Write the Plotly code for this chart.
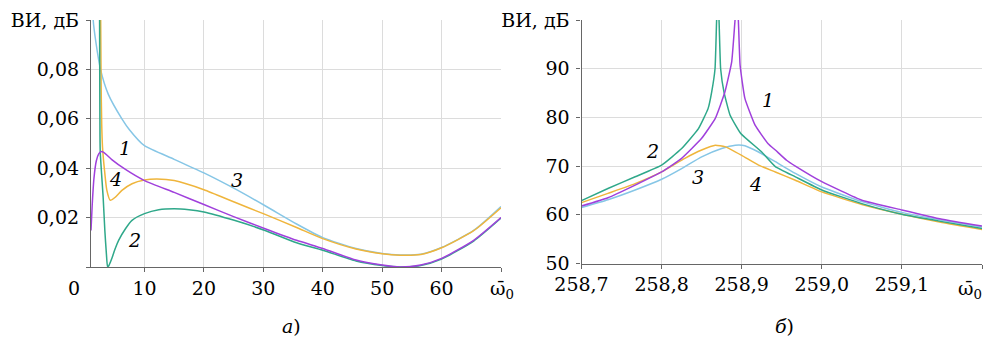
import plotly.graph_objects as go

# ---------------- Panel а) ----------------
a_x1 = [1.0, 1.2, 1.5, 1.9, 2.3, 2.7, 3.2, 4.5, 6.8, 10, 15, 20, 25, 30.3, 35.6, 40, 45.6, 50, 53, 56.5, 60, 65.4, 70]
a_y1 = [0.0148, 0.025, 0.036, 0.043, 0.0458, 0.0467, 0.0463, 0.0435, 0.0395, 0.035, 0.0302, 0.0253, 0.0204,
        0.0155, 0.0108, 0.0075, 0.0028, 0.0008, 0.0, 0.0008, 0.0035, 0.0108, 0.020]

a_x2 = [2.42, 2.47, 2.5, 2.55, 3.05, 3.33, 3.6, 3.8, 4.05, 4.5, 5.08, 5.65, 6.8, 7.9, 10, 12.4, 15, 17.5, 20,
        25.1, 30.3, 35.6, 40, 45.6, 50, 53, 56.5, 60, 65.4, 70]
a_y2 = [0.12, 0.08, 0.06, 0.047, 0.028, 0.0148, 0.005, 0.0, 0.0008, 0.0034, 0.0075, 0.0108, 0.0155, 0.0189,
        0.0216, 0.0232, 0.0236, 0.0232, 0.0223, 0.0189, 0.0148, 0.0098, 0.0068, 0.0024, 0.0006, 0.0, 0.0006,
        0.0032, 0.0105, 0.0198]

a_x3 = [1.3, 1.37, 1.8, 2.6, 3.9, 6.2, 7.5, 10, 15, 20, 25.1, 30.3, 35.6, 40, 45.6, 50, 53, 56.5, 60, 65.4, 70]
a_y3 = [0.11, 0.1, 0.0914, 0.080, 0.070, 0.060, 0.0555, 0.0491, 0.0436, 0.0381, 0.0318, 0.0248, 0.0174, 0.0119,
        0.0075, 0.0055, 0.0049, 0.0052, 0.0079, 0.0148, 0.0245]

a_x4 = [2.6, 2.7, 2.8, 2.94, 3.28, 3.67, 4.24, 5.1, 6.2, 7.9, 10, 12.1, 15, 20, 25.1, 30.3, 35.6, 40, 45.6, 50,
        53, 56.5, 60, 65.4, 70]
a_y4 = [0.11, 0.075, 0.058, 0.0485, 0.039, 0.031, 0.027, 0.0283, 0.031, 0.0337, 0.0352, 0.0356, 0.035, 0.0313,
        0.0263, 0.0213, 0.016, 0.0115, 0.0073, 0.0054, 0.0048, 0.0051, 0.0078, 0.0147, 0.024]

a_xticks = [10, 20, 30, 40, 50, 60, 70]
a_xtext = ["10", "20", "30", "40", "50", "60", " "]
a_yticks = [0, 0.02, 0.04, 0.06, 0.08, 0.1]
a_ytext = [" ", "0,02", "0,04", "0,06", "0,08", "ВИ, дБ"]

# ---------------- Panel б) ----------------
b_x1 = [258.7, 258.733, 258.767, 258.8, 258.825, 258.85, 258.867, 258.879, 258.8875, 258.8917, 258.894,
        258.8958, 258.898, 258.904, 258.9167, 258.933, 258.942, 258.956, 258.967, 259.0, 259.05, 259.1,
        259.15, 259.2]
b_y1 = [61.8, 63.5, 66.1, 68.8, 71.6, 75.7, 79.8, 85.2, 91.4, 100, 104, 100, 90.7, 83.9, 78.4, 74.6, 73.3,
        71.2, 70.0, 66.8, 63.0, 61.0, 59.1, 57.7]

b_x2 = [258.7, 258.733, 258.767, 258.8, 258.825, 258.846, 258.858, 258.8625, 258.8667, 258.8687, 258.8702,
        258.8717, 258.8737, 258.8779, 258.8854, 258.8988, 258.925, 258.942, 258.967, 259.0, 259.05, 259.1,
        259.15, 259.2]
b_y2 = [62.9, 65.4, 67.8, 70.2, 73.6, 77.7, 81.8, 85.2, 90.0, 100, 104, 100, 90.0, 85.2, 80.5, 76.7, 72.9,
        69.9, 67.8, 65.1, 62.3, 60.1, 58.6, 57.2]

b_x3 = [258.7, 258.733, 258.767, 258.8, 258.825, 258.85, 258.875, 258.892, 258.904, 258.921, 258.942,
        258.967, 259.0, 259.05, 259.1, 259.15, 259.2]
b_y3 = [61.5, 63.1, 65.1, 67.3, 69.5, 71.9, 73.6, 74.3, 74.2, 72.9, 70.9, 68.5, 65.7, 62.7, 60.5, 58.9, 57.5]

b_x4 = [258.7, 258.733, 258.767, 258.8, 258.829, 258.85, 258.867, 258.879, 258.9, 258.921, 258.942, 258.967,
        259.0, 259.05, 259.1, 259.15, 259.2]
b_y4 = [62.5, 64.4, 66.4, 68.8, 71.6, 73.3, 74.3, 74.0, 72.2, 70.2, 68.8, 67.1, 64.7, 62.1, 60.1, 58.4, 57.0]

b_xticks = [258.7, 258.8, 258.9, 259.0, 259.1, 259.2]
b_xtext = ["258,7", "258,8", "258,9", "259,0", "259,1", " "]
b_yticks = [50, 60, 70, 80, 90, 100]
b_ytext = ["50", "60", "70", "80", "90", "ВИ, дБ"]

# ---------------- Styling ----------------
C1 = "#a040dc"   # 1 purple
C2 = "#2fa88a"   # 2 teal
C3 = "#86c6e6"   # 3 light blue
C4 = "#efb53c"   # 4 yellow
FONT = "DejaVu Serif"
FS = 19
W, H = 984, 340

fig = go.Figure()
for xs, ys, c in [(a_x3, a_y3, C3), (a_x4, a_y4, C4), (a_x2, a_y2, C2), (a_x1, a_y1, C1)]:
    fig.add_trace(go.Scatter(x=xs, y=ys, mode="lines", line=dict(color=c, width=1.5, shape="spline", smoothing=0.6),
                             xaxis="x", yaxis="y", showlegend=False, hoverinfo="skip"))
for xs, ys, c in [(b_x3, b_y3, C3), (b_x4, b_y4, C4), (b_x2, b_y2, C2), (b_x1, b_y1, C1)]:
    fig.add_trace(go.Scatter(x=xs, y=ys, mode="lines", line=dict(color=c, width=1.5, shape="spline", smoothing=0.4),
                             xaxis="x2", yaxis="y2", showlegend=False, hoverinfo="skip"))

axis_common = dict(showgrid=True, gridcolor="#dcdcdc", gridwidth=1, showline=True, linecolor="#666666",
                   linewidth=1.2, ticks="outside", ticklen=4, tickcolor="#666666", zeroline=False,
                   automargin=False, tickfont=dict(family=FONT, size=FS, color="black"))

fig.update_layout(
    width=W, height=H, margin=dict(l=0, r=0, t=0, b=0, pad=0, autoexpand=False),
    paper_bgcolor="white", plot_bgcolor="white",
    font=dict(family=FONT, size=FS, color="black"),
    xaxis=dict(domain=[91 / W, 501 / W], range=[1.0, 70], tickmode="array", tickvals=a_xticks,
               ticktext=a_xtext, anchor="y", **axis_common),
    yaxis=dict(domain=[1 - 267 / H, 1 - 20 / H], range=[0, 0.1], tickmode="array", tickvals=a_yticks,
               ticktext=a_ytext, anchor="x", ticklabelstandoff=3, **axis_common),
    xaxis2=dict(domain=[581.5 / W, 982 / W], range=[258.7, 259.2], tickmode="array", tickvals=b_xticks,
                ticktext=b_xtext, anchor="y2", **axis_common),
    yaxis2=dict(domain=[1 - 263.5 / H, 1 - 20 / H], range=[50, 100], tickmode="array", tickvals=b_yticks,
                ticktext=b_ytext, anchor="x2", ticklabelstandoff=3, **axis_common),
)

def ann(px, py, text, size=FS):
    fig.add_annotation(x=px / W, y=1 - py / H, xref="paper", yref="paper", text=text, showarrow=False,
                       xanchor="center", yanchor="middle", font=dict(family=FONT, size=size, color="black"))

OMEGA = "ω\u0304<sub>0</sub>"
ann(74, 288, "0")
ann(502, 289, OMEGA)
ann(970, 289, OMEGA)
ann(125, 148, "<i>1</i>")
ann(115, 179, "<i>4</i>")
ann(134, 240, "<i>2</i>")
ann(237, 180, "<i>3</i>")
ann(652, 151, "<i>2</i>")
ann(698, 177, "<i>3</i>")
ann(755, 184, "<i>4</i>")
ann(768, 100, "<i>1</i>")
ann(291, 326, "<i>а</i>)")
ann(784, 326, "<i>б</i>)")

fig.write_html("out.html", config={"displayModeBar": False},
               post_script="document.body.style.margin='0px';document.body.style.overflow='hidden';")
